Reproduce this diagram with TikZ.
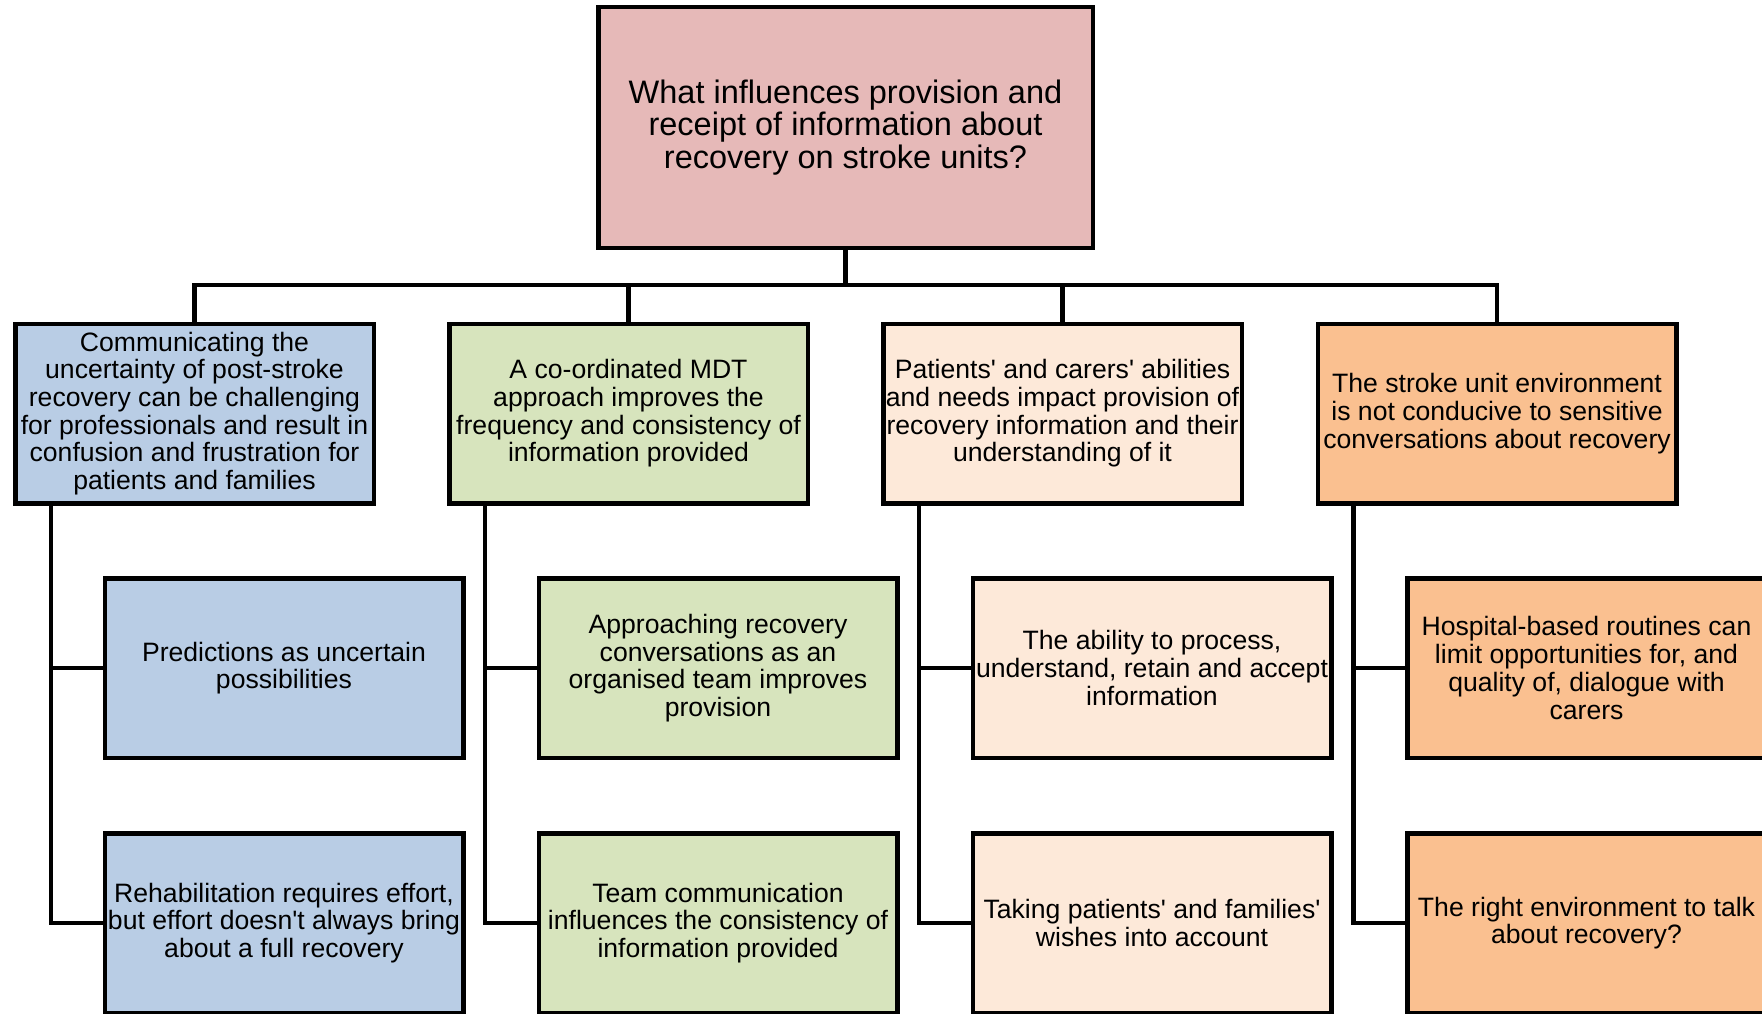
\documentclass[tikz,border=0pt]{standalone}
\usepackage{fontspec}
\newfontfamily\lsans{Liberation Sans}
\definecolor{qpink}{HTML}{E6B9B8}
\definecolor{qblue}{HTML}{B9CDE5}
\definecolor{qgreen}{HTML}{D7E4BD}
\definecolor{qpeach}{HTML}{FDE9D9}
\definecolor{qorange}{HTML}{FAC090}
\begin{document}
\begin{tikzpicture}[x=1pt,y=-1pt,
  box/.style={draw=black, line width=4.5pt, rectangle, inner sep=0pt, align=center,
    text=black, font=\lsans\fontsize{26.6}{27.7}\selectfont,
    minimum width=358.5pt, minimum height=179.5pt},
  rootbox/.style={box, fill=qpink, minimum width=494.5pt, minimum height=241pt,
    font=\lsans\fontsize{32.5}{32.8}\selectfont},
  conn/.style={draw=black, line width=4.5pt, line join=miter}]
\useasboundingbox (0,0) rectangle (1762,1013);
\clip (0,0) rectangle (1762,1013);

% root question
\node[rootbox] (top) at (845.5,127.5)
  {What influences provision and\\receipt of information about\\recovery on stroke units?};

% themes
\node[box, fill=qblue] (a1) at (194.5,413.5)
  {Communicating the\\uncertainty of post-stroke\\recovery can be challenging\\for professionals and result in\\confusion and frustration for\\patients and families};
\node[box, fill=qgreen] (a2) at (628.5,413.5)
  {A co-ordinated MDT\\approach improves the\\frequency and consistency of\\information provided};
\node[box, fill=qpeach] (a3) at (1062.5,413.5)
  {Patients' and carers' abilities\\and needs impact provision of\\recovery information and their\\understanding of it};
\node[box, fill=qorange] (a4) at (1497,413.5)
  {The stroke unit environment\\is not conducive to sensitive\\conversations about recovery};

% sub-themes, first row
\node[box, fill=qblue] (b1) at (284,668)
  {Predictions as uncertain\\possibilities};
\node[box, fill=qgreen] (b2) at (718,668)
  {Approaching recovery\\conversations as an\\organised team improves\\provision};
\node[box, fill=qpeach] (b3) at (1152,668)
  {The ability to process,\\understand, retain and accept\\information};
\node[box, fill=qorange] (b4) at (1586.5,668)
  {Hospital-based routines can\\limit opportunities for, and\\quality of, dialogue with\\carers};

% sub-themes, second row
\node[box, fill=qblue] (c1) at (284,923)
  {Rehabilitation requires effort,\\but effort doesn't always bring\\about a full recovery};
\node[box, fill=qgreen] (c2) at (718,923)
  {Team communication\\influences the consistency of\\information provided};
\node[box, fill=qpeach] (c3) at (1152,923)
  {Taking patients' and families'\\wishes into account};
\node[box, fill=qorange] (c4) at (1586.5,923)
  {The right environment to talk\\about recovery?};

% tree connectors
\coordinate (bar) at (845.5,285);
\draw[conn] (top.south) -- (bar);
\draw[conn] (a1.north) |- (bar) -| (a4.north);
\draw[conn] (a2.north) -- (a2.north |- bar);
\draw[conn] (a3.north) -- (a3.north |- bar);

\foreach \t in {1,2,3,4}{
  \draw[conn] ([xshift=38pt]a\t.south west) |- (b\t.west);
  \draw[conn] ([xshift=38pt]a\t.south west) |- (c\t.west);
}
\end{tikzpicture}
\end{document}
